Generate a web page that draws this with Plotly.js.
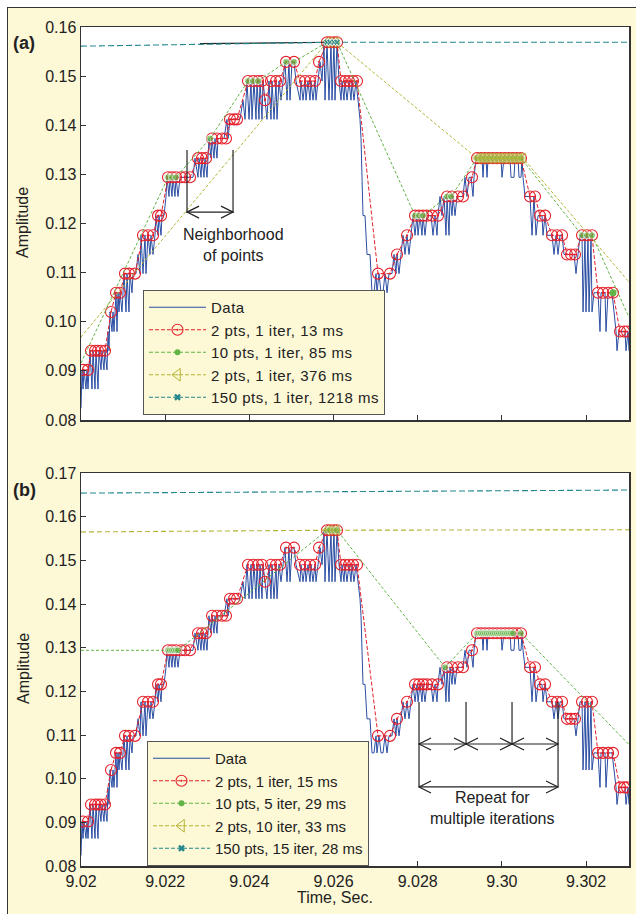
<!DOCTYPE html>
<html><head><meta charset="utf-8">
<script src="https://cdn.plot.ly/plotly-3.0.1.min.js"></script>
<style>
html,body{margin:0;padding:0;background:#fff;overflow:hidden;}
#bg{position:absolute;left:7px;top:7px;width:640px;height:920px;background:#fdf8d6;border:1.5px solid #333;box-sizing:border-box;}
#plot{position:absolute;left:0;top:0;width:636px;height:914px;}
.legendtext{letter-spacing:0.5px;}
</style></head><body>
<div id="bg"></div><div id="plot"></div>
<script>
// ---------- DATA ----------
const dataT = [9.020000,9.020024,9.020048,9.020071,9.020119,9.020143,9.020166,9.020190,9.020214,9.020261,9.020285,9.020333,9.020356,9.020404,9.020428,9.020475,9.020499,9.020546,9.020570,9.020618,9.020642,9.020665,9.020689,9.020737,9.020760,9.020784,9.020832,9.020855,9.020879,9.020903,9.020927,9.020974,9.021022,9.021069,9.021093,9.021140,9.021164,9.021212,9.021236,9.021307,9.021354,9.021402,9.021426,9.021473,9.021521,9.021544,9.021592,9.021639,9.021663,9.021711,9.021758,9.021782,9.021830,9.021853,9.021901,9.021925,9.021972,9.022020,9.022043,9.022091,9.022115,9.022162,9.022186,9.022233,9.022257,9.022305,9.022352,9.022661,9.022709,9.022780,9.022804,9.022851,9.022875,9.022922,9.022946,9.022994,9.023041,9.023089,9.023113,9.023160,9.023184,9.023231,9.023255,9.023398,9.023469,9.023493,9.023540,9.023778,9.023849,9.023897,9.023944,9.023992,9.024039,9.024063,9.024110,9.024158,9.024182,9.024229,9.024253,9.024301,9.024324,9.024372,9.024419,9.024467,9.024514,9.024538,9.024586,9.024633,9.024657,9.024704,9.024752,9.024800,9.024847,9.024895,9.024942,9.024966,9.025013,9.025061,9.025108,9.025203,9.025227,9.025275,9.025322,9.025346,9.025394,9.025441,9.025465,9.025512,9.025560,9.025584,9.025631,9.025679,9.025726,9.025774,9.025797,9.025845,9.025892,9.025940,9.025964,9.026011,9.026035,9.026083,9.026130,9.026178,9.026201,9.026249,9.026273,9.026320,9.026368,9.026415,9.026439,9.026486,9.026534,9.026582,9.026629,9.026653,9.026677,9.026700,9.026748,9.026795,9.026867,9.026914,9.026962,9.027009,9.027033,9.027080,9.027128,9.027176,9.027223,9.027271,9.027318,9.027389,9.027437,9.027484,9.027508,9.027556,9.027603,9.027651,9.027698,9.027746,9.027793,9.027841,9.027888,9.027936,9.027983,9.028007,9.028055,9.028102,9.028126,9.028173,9.028221,9.028316,9.028364,9.028411,9.028459,9.028482,9.028530,9.028577,9.028625,9.028672,9.028696,9.028744,9.028767,9.028815,9.028839,9.028886,9.028934,9.029076,9.029124,9.029171,9.029219,9.029266,9.029314,9.029338,9.029385,9.029528,9.029552,9.029575,9.029623,9.029647,9.029670,9.029979,9.030003,9.030050,9.030193,9.030217,9.030288,9.030312,9.030383,9.030407,9.030454,9.030478,9.030502,9.030549,9.030668,9.030716,9.030763,9.030811,9.030858,9.030953,9.030977,9.031025,9.031072,9.031191,9.031238,9.031286,9.031334,9.031381,9.031429,9.031476,9.031714,9.031761,9.031809,9.031856,9.031904,9.031928,9.031975,9.031999,9.032046,9.032070,9.032118,9.032141,9.032189,9.032284,9.032331,9.032355,9.032450,9.032474,9.032522,9.032617,9.032664,9.032712,9.032735,9.032783,9.032925,9.032949,9.032997,9.033020];
const dataV = [0.0824,0.0902,0.0863,0.0902,0.0863,0.0902,0.0863,0.0902,0.0941,0.0863,0.0941,0.0863,0.0941,0.0863,0.0941,0.0902,0.0941,0.0902,0.0941,0.0902,0.0980,0.0941,0.1020,0.0980,0.1020,0.0980,0.1059,0.0980,0.1059,0.1020,0.1059,0.1020,0.1098,0.1020,0.1098,0.1020,0.1098,0.1059,0.1098,0.1098,0.1137,0.1098,0.1176,0.1098,0.1176,0.1098,0.1176,0.1137,0.1176,0.1137,0.1176,0.1216,0.1176,0.1216,0.1176,0.1216,0.1216,0.1255,0.1294,0.1255,0.1294,0.1255,0.1294,0.1255,0.1294,0.1255,0.1294,0.1294,0.1333,0.1294,0.1333,0.1294,0.1333,0.1294,0.1333,0.1294,0.1373,0.1333,0.1373,0.1333,0.1373,0.1333,0.1373,0.1373,0.1412,0.1373,0.1412,0.1412,0.1451,0.1412,0.1490,0.1412,0.1490,0.1412,0.1490,0.1412,0.1490,0.1412,0.1490,0.1412,0.1490,0.1451,0.1412,0.1490,0.1412,0.1490,0.1412,0.1490,0.1412,0.1490,0.1451,0.1490,0.1529,0.1451,0.1529,0.1451,0.1529,0.1529,0.1490,0.1451,0.1490,0.1451,0.1490,0.1451,0.1490,0.1451,0.1490,0.1451,0.1490,0.1451,0.1490,0.1529,0.1490,0.1569,0.1451,0.1569,0.1451,0.1569,0.1451,0.1569,0.1451,0.1569,0.1490,0.1451,0.1490,0.1451,0.1490,0.1451,0.1490,0.1451,0.1490,0.1451,0.1490,0.1451,0.1412,0.1373,0.1294,0.1216,0.1216,0.1137,0.1137,0.1059,0.1059,0.1098,0.1059,0.1098,0.1059,0.1059,0.1098,0.1059,0.1098,0.1098,0.1137,0.1098,0.1137,0.1098,0.1137,0.1176,0.1137,0.1176,0.1137,0.1176,0.1216,0.1176,0.1216,0.1176,0.1216,0.1176,0.1216,0.1176,0.1216,0.1216,0.1176,0.1216,0.1176,0.1216,0.1255,0.1216,0.1255,0.1176,0.1255,0.1176,0.1255,0.1216,0.1255,0.1216,0.1255,0.1255,0.1294,0.1255,0.1294,0.1294,0.1255,0.1294,0.1333,0.1333,0.1294,0.1333,0.1333,0.1294,0.1333,0.1333,0.1294,0.1333,0.1333,0.1294,0.1294,0.1333,0.1333,0.1294,0.1294,0.1333,0.1294,0.1255,0.1255,0.1176,0.1255,0.1176,0.1216,0.1216,0.1176,0.1216,0.1176,0.1176,0.1137,0.1176,0.1137,0.1176,0.1176,0.1137,0.1137,0.1098,0.1137,0.1176,0.1176,0.1020,0.1176,0.1020,0.1176,0.1020,0.1176,0.1020,0.1059,0.1059,0.0980,0.1059,0.1059,0.0980,0.1059,0.1059,0.1020,0.0980,0.0941,0.0980,0.0980,0.0941,0.0980,0.0941];

// "2 pts, 1 iter" envelope points (same in both panels)
const redT = [9.020048,9.020166,9.020238,9.020333,9.020404,9.020475,9.020570,9.020713,9.020832,9.020927,9.021045,9.021140,9.021283,9.021473,9.021592,9.021711,9.021830,9.021901,9.022067,9.022162,9.022257,9.022376,9.022471,9.022590,9.022780,9.022875,9.022970,9.023113,9.023231,9.023350,9.023445,9.023540,9.023635,9.023707,9.023968,9.024087,9.024206,9.024301,9.024372,9.024514,9.024633,9.024728,9.024871,9.025061,9.025203,9.025322,9.025441,9.025560,9.025655,9.025845,9.025916,9.026011,9.026083,9.026178,9.026273,9.026368,9.026463,9.026558,9.027057,9.027342,9.027508,9.027746,9.027936,9.028031,9.028126,9.028221,9.028340,9.028482,9.028696,9.028815,9.028958,9.029076,9.029290,9.029409,9.029504,9.029599,9.029694,9.029789,9.029884,9.029979,9.030074,9.030169,9.030264,9.030359,9.030454,9.030668,9.030787,9.030906,9.031025,9.031191,9.031310,9.031429,9.031547,9.031642,9.031737,9.031904,9.032023,9.032141,9.032284,9.032403,9.032522,9.032640,9.032807,9.032902,9.032973];
const redV = [0.0902,0.0902,0.0941,0.0941,0.0941,0.0941,0.0941,0.1020,0.1059,0.1059,0.1098,0.1098,0.1098,0.1176,0.1176,0.1176,0.1216,0.1216,0.1294,0.1294,0.1294,0.1294,0.1294,0.1294,0.1333,0.1333,0.1333,0.1373,0.1373,0.1373,0.1373,0.1412,0.1412,0.1412,0.1490,0.1490,0.1490,0.1490,0.1451,0.1490,0.1490,0.1490,0.1529,0.1529,0.1490,0.1490,0.1490,0.1490,0.1529,0.1569,0.1569,0.1569,0.1569,0.1490,0.1490,0.1490,0.1490,0.1490,0.1098,0.1098,0.1137,0.1176,0.1216,0.1216,0.1216,0.1216,0.1216,0.1216,0.1255,0.1255,0.1255,0.1255,0.1294,0.1333,0.1333,0.1333,0.1333,0.1333,0.1333,0.1333,0.1333,0.1333,0.1333,0.1333,0.1333,0.1255,0.1255,0.1216,0.1216,0.1176,0.1176,0.1176,0.1137,0.1137,0.1137,0.1176,0.1176,0.1176,0.1059,0.1059,0.1059,0.1059,0.0980,0.0980,0.0980];

// panel (a) other series
const grnAT = [9.020000,9.022067,9.022162,9.022257,9.023065,9.023968,9.024087,9.024206,9.024871,9.025061,9.025845,9.025964,9.026083,9.027936,9.028031,9.028126,9.028696,9.028791,9.029409,9.029504,9.029599,9.029694,9.029789,9.029884,9.029979,9.030074,9.030169,9.030264,9.030359,9.030454,9.031904,9.032023,9.032141,9.033020];
const grnAV = [0.0916,0.1294,0.1294,0.1294,0.1373,0.1490,0.1490,0.1490,0.1529,0.1529,0.1569,0.1569,0.1569,0.1216,0.1216,0.1216,0.1255,0.1255,0.1333,0.1333,0.1333,0.1333,0.1333,0.1333,0.1333,0.1333,0.1333,0.1333,0.1333,0.1333,0.1176,0.1176,0.1176,0.1009];
const grnAextraT = [9.032640];
const grnAextraV = [0.1059];
const oliAT = [9.020000,9.025845,9.025916,9.026011,9.026083,9.029409,9.029456,9.029504,9.029552,9.029599,9.029647,9.029694,9.029742,9.029789,9.029837,9.029884,9.029932,9.029979,9.030027,9.030074,9.030122,9.030169,9.030217,9.030264,9.030312,9.030359,9.030407,9.030454,9.030502,9.033020];
const oliAV = [0.0969,0.1569,0.1569,0.1569,0.1569,0.1333,0.1333,0.1333,0.1333,0.1333,0.1333,0.1333,0.1333,0.1333,0.1333,0.1333,0.1333,0.1333,0.1333,0.1333,0.1333,0.1333,0.1333,0.1333,0.1333,0.1333,0.1333,0.1333,0.1333,0.1081];
const tealAT = [9.020000,9.025845,9.025916,9.026011,9.026083,9.033020];
const tealAV = [0.1561,0.1569,0.1569,0.1569,0.1569,0.1569];
const darkAT = [9.022827,9.025845];
const darkAV = [0.1566,0.1569];

// panel (b) other series
const grnBT = [9.020000,9.022067,9.022115,9.022162,9.022210,9.022257,9.022305,9.025845,9.025916,9.026011,9.026083,9.028649,9.029409,9.029456,9.029504,9.029552,9.029599,9.029647,9.029694,9.029742,9.029789,9.029837,9.029884,9.029932,9.029979,9.030027,9.030074,9.030122,9.030169,9.030217,9.030264,9.030454,9.033020];
const grnBV = [0.1294,0.1294,0.1294,0.1294,0.1294,0.1294,0.1294,0.1569,0.1569,0.1569,0.1569,0.1255,0.1333,0.1333,0.1333,0.1333,0.1333,0.1333,0.1333,0.1333,0.1333,0.1333,0.1333,0.1333,0.1333,0.1333,0.1333,0.1333,0.1333,0.1333,0.1333,0.1333,0.1078];
const oliBT = [9.020000,9.025845,9.025916,9.026011,9.026083,9.033020];
const oliBV = [0.1565,0.1569,0.1569,0.1569,0.1569,0.1570];
const tealBT = [9.020000,9.033020];
const tealBV = [0.1654,0.1661];

const xTickVals = [9.020,9.022,9.024,9.026,9.028,9.030,9.032];
const xTickText = ['9.02','9.022','9.024','9.026','9.028','9.30','9.302'];
const yTickValsA = [0.08,0.09,0.10,0.11,0.12,0.13,0.14,0.15,0.16];
const yTickTextA = ['0.08','0.09','0.10','0.11','0.12','0.13','0.14','0.15','0.16'];
const yTickValsB = [0.08,0.09,0.10,0.11,0.12,0.13,0.14,0.15,0.16,0.17];
const yTickTextB = ['0.08','0.09','0.10','0.11','0.12','0.13','0.14','0.15','0.16','0.17'];
const legendA = ['Data','2 pts, 1 iter, 13 ms','10 pts, 1 iter, 85 ms','2 pts, 1 iter, 376 ms','150 pts, 1 iter, 1218 ms'];
const legendB = ['Data','2 pts, 1 iter, 15 ms','10 pts, 5 iter, 29 ms','2 pts, 10 iter, 33 ms','150 pts, 15 iter, 28 ms'];

// annotation brackets (data coordinates)
const nbX = [9.022519, 9.023612]; const nbTop = 0.13495, nbBot = 0.12212;
const nbTextX = 9.023612, nbTextY = 0.11566;
const rpX = [9.028031, 9.029148, 9.030241, 9.031334]; const rpTop = 0.11756, rpMid = 0.10794, rpBot = 0.09810;
const rpTextX = 9.029782, rpTextY = 0.09329;

// ---------- STYLE ----------
const W = 636, H = 914;
const FONT = 'Liberation Sans, Arial, Helvetica, sans-serif';
const C = {blue:'#2b4ea3', red:'#e4202a', green:'#62b446', olive:'#b4b436', teal:'#23878c', ink:'#222'};
const CREAM = '#fdf8d6';
const FS = 16;
const sizesEdge0 = (arr, s) => arr.map((_, i) => (i === 0 || i === arr.length - 1) ? 0 : s);

function series(ax, panel) {
  const xa = ax[0], ya = ax[1];
  const base = {type:'scatter', xaxis:xa, yaxis:ya, showlegend:false, hoverinfo:'skip'};
  const tr = [];
  tr.push({...base, x:dataT, y:dataV, mode:'lines', line:{color:C.blue, width:1}});
  tr.push({...base, x:redT, y:redV, mode:'lines+markers', line:{color:C.red, width:1, dash:'4px,2px'},
    marker:{symbol:'circle-open-dot', size:11, color:C.red, line:{width:1.1, color:C.red}}});
  if (panel === 'a') {
    tr.push({...base, x:grnAT, y:grnAV, mode:'lines+markers', line:{color:C.green, width:1, dash:'3px,2px'},
      marker:{symbol:'circle', size:sizesEdge0(grnAT, 7), color:C.green}});
    tr.push({...base, x:grnAextraT, y:grnAextraV, mode:'markers', marker:{symbol:'circle', size:7, color:C.green}});
    tr.push({...base, x:oliAT, y:oliAV, mode:'lines+markers', line:{color:C.olive, width:1, dash:'3px,2px'},
      marker:{symbol:'triangle-left-open-dot', size:sizesEdge0(oliAT, 9), color:C.olive, line:{width:1, color:C.olive}}});
    tr.push({...base, x:darkAT, y:darkAV, mode:'lines', line:{color:'#222', width:1.2}});
    tr.push({...base, x:tealAT, y:tealAV, mode:'lines+markers', line:{color:C.teal, width:1.1, dash:'6px,3px'},
      marker:{symbol:'x', size:sizesEdge0(tealAT, 6), color:C.teal}});
  } else {
    tr.push({...base, x:grnBT, y:grnBV, mode:'lines+markers', line:{color:C.green, width:1, dash:'3px,2px'},
      marker:{symbol:'circle', size:sizesEdge0(grnBT, 7), color:C.green}});
    tr.push({...base, x:oliBT, y:oliBV, mode:'lines+markers', line:{color:C.olive, width:1.1, dash:'5px,3px'},
      marker:{symbol:'triangle-left-open-dot', size:sizesEdge0(oliBT, 9), color:C.olive, line:{width:1, color:C.olive}}});
    tr.push({...base, x:tealBT, y:tealBV, mode:'lines', line:{color:C.teal, width:1.1, dash:'6px,3px'}});
  }
  return tr;
}

function legendDummies(ax, names, lg) {
  const base = {type:'scatter', xaxis:ax[0], yaxis:ax[1], x:[null], y:[null], legend:lg, showlegend:true, hoverinfo:'skip'};
  return [
    {...base, name:names[0], mode:'lines', line:{color:C.blue, width:1}},
    {...base, name:names[1], mode:'lines+markers', line:{color:C.red, width:1, dash:'4px,2px'}, marker:{symbol:'circle-open-dot', size:11, color:C.red, line:{width:1.1, color:C.red}}},
    {...base, name:names[2], mode:'lines+markers', line:{color:C.green, width:1, dash:'4px,2px'}, marker:{symbol:'circle', size:6, color:C.green}},
    {...base, name:names[3], mode:'lines+markers', line:{color:C.olive, width:1, dash:'4px,2px'}, marker:{symbol:'triangle-left-open-dot', size:11, color:C.olive, line:{width:1, color:C.olive}}},
    {...base, name:names[4], mode:'lines+markers', line:{color:C.teal, width:1, dash:'4px,2px'}, marker:{symbol:'x', size:6, color:C.teal}}
  ];
}

const traces = [].concat(series(['x','y'],'a'), series(['x2','y2'],'b'),
  legendDummies(['x','y'], legendA, 'legend'), legendDummies(['x2','y2'], legendB, 'legend2'));

const axisCommon = {showline:true, mirror:true, linecolor:'#333', linewidth:1.5, ticks:'inside', ticklen:5,
  tickcolor:'#333', tickwidth:1, showgrid:false, zeroline:false, fixedrange:true,
  tickfont:{family:FONT, size:FS, color:C.ink}};
const xdom = [81/W, 629/W];

// bracket shapes
const lineS = (xr, yr, x0, y0, x1, y1) => ({type:'line', xref:xr, yref:yr, x0, y0, x1, y1, line:{color:'#222', width:1.2}});
const chev = (xr, yr, x, y, dx, dy) => ({type:'path', xref:xr, yref:yr, path:`M${x+dx},${y+dy} L${x},${y} L${x+dx},${y-dy}`, line:{color:'#222', width:1.2}});
function dblArrow(xr, yr, xa, xb, y, dy) {
  const dx = 0.000285;
  return [lineS(xr, yr, xa, y, xb, y), chev(xr, yr, xa, y, dx, dy), chev(xr, yr, xb, y, -dx, dy)];
}
const shapes = [
  lineS('x','y', nbX[0], nbTop, nbX[0], nbBot), lineS('x','y', nbX[1], nbTop, nbX[1], nbBot),
  ...dblArrow('x','y', nbX[0], nbX[1], nbBot + 0.0002, 0.00122),
  lineS('x2','y2', rpX[0], rpTop, rpX[0], rpBot), lineS('x2','y2', rpX[3], rpTop, rpX[3], rpBot),
  lineS('x2','y2', rpX[1], rpTop, rpX[1], rpMid), lineS('x2','y2', rpX[2], rpTop, rpX[2], rpMid),
  ...dblArrow('x2','y2', rpX[0], rpX[1], rpMid, 0.00137),
  ...dblArrow('x2','y2', rpX[1], rpX[2], rpMid, 0.00137),
  ...dblArrow('x2','y2', rpX[2], rpX[3], rpMid, 0.00137),
  ...dblArrow('x2','y2', rpX[0], rpX[3], rpBot, 0.00137)
];

const txt = (o) => Object.assign({showarrow:false, font:{family:FONT, size:FS, color:C.ink}}, o);
const annotations = [
  txt({xref:'paper', yref:'paper', x:11/W, y:1-43/H, xanchor:'left', yanchor:'middle', text:'<b>(a)</b>', font:{family:'Liberation Sans Narrow, Liberation Sans, Arial', size:18, color:C.ink}}),
  txt({xref:'paper', yref:'paper', x:11/W, y:1-490/H, xanchor:'left', yanchor:'middle', text:'<b>(b)</b>', font:{family:'Liberation Sans Narrow, Liberation Sans, Arial', size:18, color:C.ink}}),
  txt({xref:'paper', yref:'paper', x:23/W, y:1-223/H, xanchor:'center', yanchor:'middle', text:'Amplitude', textangle:-90}),
  txt({xref:'paper', yref:'paper', x:23/W, y:1-669/H, xanchor:'center', yanchor:'middle', text:'Amplitude', textangle:-90}),
  txt({xref:'paper', yref:'paper', x:335/W, y:1-897/H, xanchor:'center', yanchor:'middle', text:'Time, Sec.'}),
  txt({xref:'x', yref:'y', x:nbTextX, y:nbTextY, xanchor:'center', yanchor:'middle', text:'Neighborhood<br>of points'}),
  txt({xref:'x2', yref:'y2', x:rpTextX, y:rpTextY, xanchor:'center', yanchor:'middle', text:'Repeat for<br>multiple iterations'})
];

const legendCommon = {xanchor:'left', yanchor:'top', bgcolor:CREAM, bordercolor:'#555', borderwidth:1,
  font:{family:FONT, size:15, color:C.ink}, itemwidth:57, traceorder:'normal'};

const layout = {
  width:W, height:H, margin:{l:0, r:0, t:0, b:0},
  paper_bgcolor:'rgba(0,0,0,0)', plot_bgcolor:'#fff',
  font:{family:FONT, color:C.ink},
  xaxis:{...axisCommon, domain:xdom, anchor:'y', range:[9.02, 9.03302], tickvals:xTickVals, ticktext:xTickText, showticklabels:false},
  yaxis:{...axisCommon, domain:[1-420/H, 1-27/H], anchor:'x', range:[0.08, 0.16], tickvals:yTickValsA, ticktext:yTickTextA},
  xaxis2:{...axisCommon, domain:xdom, anchor:'y2', range:[9.02, 9.03302], tickvals:xTickVals, ticktext:xTickText},
  yaxis2:{...axisCommon, domain:[1-866/H, 1-473/H], anchor:'x2', range:[0.08, 0.17], tickvals:yTickValsB, ticktext:yTickTextB},
  legend:{...legendCommon, x:143/W, y:1-290/H},
  legend2:{...legendCommon, x:147/W, y:1-741/H},
  shapes, annotations
};

Plotly.newPlot('plot', traces, layout, {staticPlot:true, displayModeBar:false});
</script></body></html>
